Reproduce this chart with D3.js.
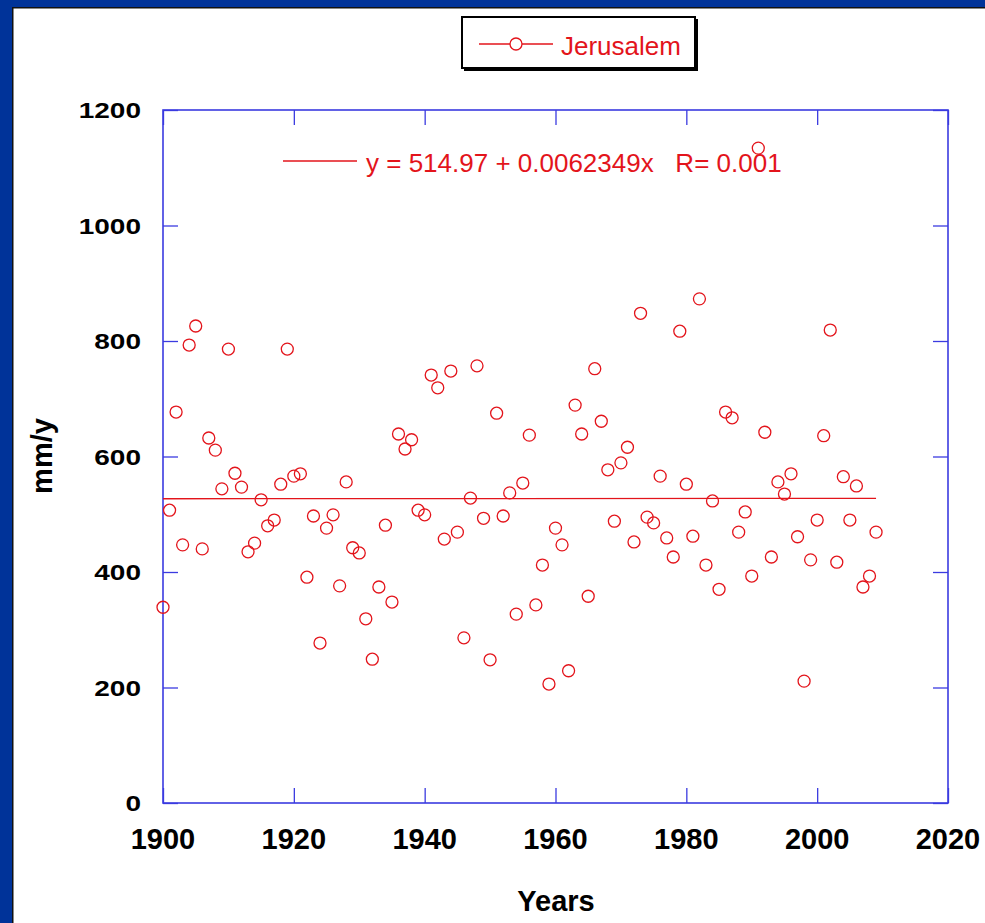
<!DOCTYPE html>
<html><head><meta charset="utf-8">
<script src="https://cdn.jsdelivr.net/npm/d3@7"></script>
<style>
html,body{margin:0;padding:0;background:#fff;}
svg{display:block;font-family:"Liberation Sans",Arial,sans-serif;}
</style></head><body>
<script>
const years = [1900,1901,1902,1903,1904,1905,1906,1907,1908,1909,
1910,1911,1912,1913,1914,1915,1916,1917,1918,1919,
1920,1921,1922,1923,1924,1925,1926,1927,1928,1929,
1930,1931,1932,1933,1934,1935,1936,1937,1938,1939,
1940,1941,1942,1943,1944,1945,1946,1947,1948,1949,
1950,1951,1952,1953,1954,1955,1956,1957,1958,1959,
1960,1961,1962,1963,1964,1965,1966,1967,1968,1969,
1970,1971,1972,1973,1974,1975,1976,1977,1978,1979,
1980,1981,1982,1983,1984,1985,1986,1987,1988,1989,
1990,1991,1992,1993,1994,1995,1996,1997,1998,1999,
2000,2001,2002,2003,2004,2005,2006,2007,2008,2009];
const rainfall = [339,507,677,447,793,826,440,632,611,544,
786,571,547,435,450,525,480,490,552,786,
566,570,391,497,277,476,499,376,556,442,
433,319,249,374,481,348,639,613,629,507,
499,741,719,457,748,469,286,528,757,493,
248,675,497,537,327,554,637,343,412,206,
476,447,229,689,639,358,752,661,577,488,
589,616,452,848,495,485,566,459,426,817,
552,462,873,412,523,370,677,667,469,504,
393,1134,642,426,556,535,570,461,211,421,
490,636,819,417,565,490,549,374,393,469];
const xTicks = [1900,1920,1940,1960,1980,2000,2020];
const yTicks = [0,200,400,600,800,1000,1200];
const seriesName = "Jerusalem";
const fitIntercept = 514.97, fitSlope = 0.0062349;
const fitText = "y = 514.97 + 0.0062349x   R= 0.001";

const W = 985, H = 923;
const red = "#e3141b", axisBlue = "#3b3be0";
const svg = d3.select("body").append("svg").attr("width", W).attr("height", H);
svg.append("rect").attr("width", W).attr("height", H).attr("fill", "#fff");
// outer frame
svg.append("rect").attr("x",0).attr("y",0).attr("width",W).attr("height",7).attr("fill","#003399");
svg.append("rect").attr("x",0).attr("y",0).attr("width",12).attr("height",H).attr("fill","#003399");
svg.append("rect").attr("x",12).attr("y",7).attr("width",W-12).attr("height",1.5).attr("fill","#111");
svg.append("rect").attr("x",12).attr("y",7).attr("width",1.5).attr("height",H).attr("fill","#111");

const L = 163, R = 948, T = 110, B = 803;
const x = d3.scaleLinear().domain([1900, 2020]).range([L, R]);
const y = d3.scaleLinear().domain([0, 1200]).range([B, T]);

const g = svg.append("g");
const tl = 15;
g.append("g").attr("transform",`translate(0,${B})`).call(d3.axisTop(x).tickValues(xTicks).tickSize(tl).tickFormat(""));
g.append("g").attr("transform",`translate(0,${T})`).call(d3.axisBottom(x).tickValues(xTicks).tickSize(tl).tickFormat(""));
g.append("g").attr("transform",`translate(${L},0)`).call(d3.axisRight(y).tickValues(yTicks).tickSize(tl).tickFormat(""));
g.append("g").attr("transform",`translate(${R},0)`).call(d3.axisLeft(y).tickValues(yTicks).tickSize(tl).tickFormat(""));
g.selectAll(".domain").remove();
g.selectAll(".tick line").attr("stroke", axisBlue).attr("stroke-width", 1.3);
svg.append("rect").attr("x",L).attr("y",T).attr("width",R-L).attr("height",B-T)
  .attr("fill","none").attr("stroke",axisBlue).attr("stroke-width",1.6);

// tick labels
svg.append("g").selectAll("text").data(xTicks).join("text")
  .attr("x", d => x(d)).attr("y", 849).attr("text-anchor","middle")
  .attr("font-size", 29).attr("font-weight","bold").attr("fill","#000").text(d => d);
svg.append("g").selectAll("text").data(yTicks).join("text")
  .attr("transform", d => `translate(141,${y(d)+8}) scale(1,0.8)`)
  .attr("text-anchor","end")
  .attr("font-size", 28).attr("font-weight","bold").attr("fill","#000").text(d => d);

// axis titles
svg.append("text").attr("x", 556).attr("y", 911).attr("text-anchor","middle")
  .attr("font-size", 29).attr("font-weight","bold").text("Years");
svg.append("text").attr("transform","translate(52,456) rotate(-90)").attr("text-anchor","middle")
  .attr("font-size", 29).attr("font-weight","bold").text("mm/y");

// fit line
svg.append("line")
  .attr("x1", x(years[0])).attr("x2", x(years[years.length-1]))
  .attr("y1", y(fitIntercept + fitSlope*years[0])).attr("y2", y(fitIntercept + fitSlope*years[years.length-1]))
  .attr("stroke", red).attr("stroke-width", 1.3);

// points
svg.append("g").selectAll("circle").data(years).join("circle")
  .attr("cx", (d) => x(d)).attr("cy", (d,i) => y(rainfall[i])).attr("r", 6)
  .attr("fill","none").attr("stroke", red).attr("stroke-width", 1.3);

// fit legend
svg.append("line").attr("x1",283).attr("x2",357).attr("y1",161).attr("y2",161)
  .attr("stroke", red).attr("stroke-width",1.3);
svg.append("text").attr("x",366).attr("y",172).attr("font-size",26).attr("fill",red)
  .style("white-space","pre").text(fitText);

// series legend
svg.append("rect").attr("x",464).attr("y",19).attr("width",234).attr("height",52).attr("fill","#000");
svg.append("rect").attr("x",462).attr("y",17).attr("width",233).attr("height",51)
  .attr("fill","#fff").attr("stroke","#000").attr("stroke-width",2);
svg.append("line").attr("x1",479).attr("x2",553).attr("y1",44).attr("y2",44).attr("stroke",red).attr("stroke-width",1.3);
svg.append("circle").attr("cx",516).attr("cy",44).attr("r",6).attr("fill","#fff").attr("stroke",red).attr("stroke-width",1.3);
svg.append("text").attr("x",561).attr("y",55).attr("font-size",26).attr("fill",red).text(seriesName);
</script>
</body></html>
